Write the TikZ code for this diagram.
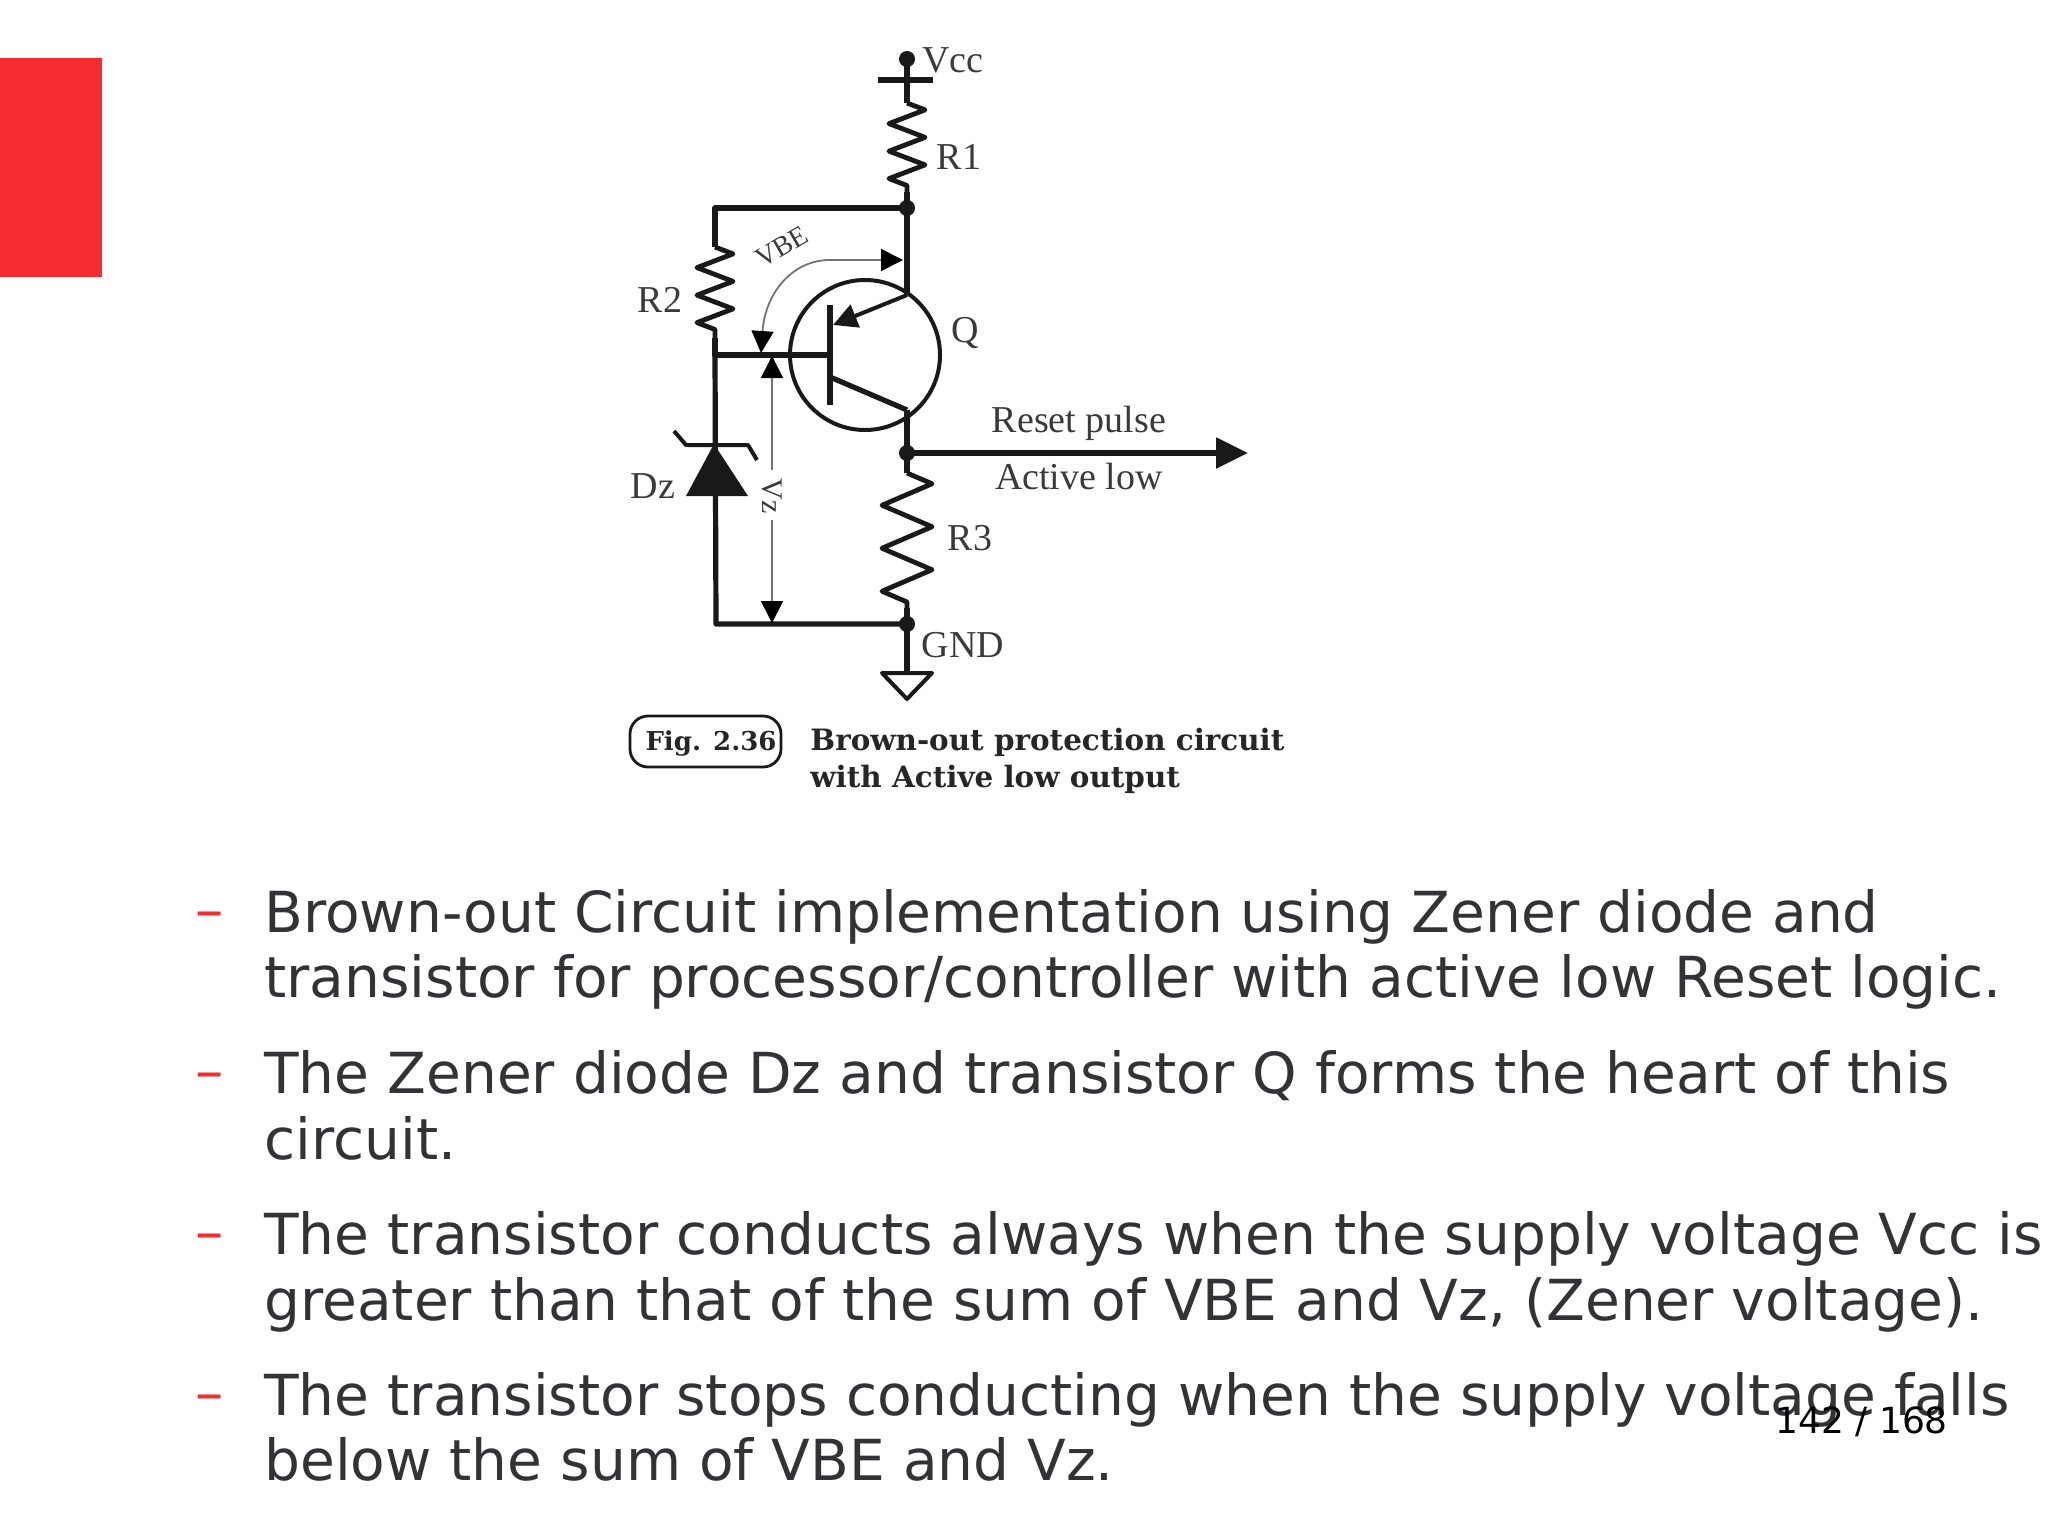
\documentclass[tikz,border=0pt]{standalone}
\usepackage{fontspec}
\setmainfont{Liberation Serif}
\newfontfamily\slidefont{DejaVu Sans}
\newfontfamily\capfont{DejaVu Serif}
\usetikzlibrary{arrows.meta,decorations.pathmorphing,calc}
\definecolor{slidered}{HTML}{F42C30}
\definecolor{slidetext}{HTML}{333236}
\definecolor{inktext}{HTML}{3A3A3A}
\tikzset{
  wire/.style={line width=2.6pt,black!90,line join=round},
  thinwire/.style={line width=0.9pt,black!55},
  res/.style={wire,line width=2.4pt,decorate,decoration={zigzag,amplitude=9pt,segment length=13.75pt,pre length=0pt,post length=0pt}},
  junction/.style={circle,fill=black!90,inner sep=0pt,minimum size=8pt},
  lab/.style={inner sep=0pt,text=inktext,font=\fontsize{19}{22}\selectfont},
  captext/.style={inner sep=0pt,anchor=base west,text=black!85,font=\capfont\fontsize{14.7}{18}\selectfont\bfseries},
  linetext/.style={inner sep=0pt,anchor=base west,text=slidetext,font=\slidefont\fontsize{28.3}{33}\selectfont},
  dashtext/.style={inner sep=0pt,anchor=base west,text=slidered,font=\slidefont\fontsize{28.3}{33}\selectfont},
  voltip/.style={-{Triangle[length=11pt,width=11pt,color=black]}},
  volboth/.style={{Triangle[length=11pt,width=11pt,color=black]}-{Triangle[length=11pt,width=11pt,color=black]}}
}
\begin{document}
\begin{tikzpicture}[x=0.5pt,y=-0.5pt]
\useasboundingbox (0,0) rectangle (2048,1536);
\fill[slidered] (0,58) rectangle (102,277);

% circuit points
\coordinate (vcc) at (907,59);
\coordinate (r1top) at (907,103);
\coordinate (r1bot) at (907,192);
\coordinate (top) at (907,208);
\coordinate (topleft) at (715,208);
\coordinate (r2top) at (715,247);
\coordinate (r2bot) at (715,338);
\coordinate (base) at (715,355);
\coordinate (bar) at (830,355);
\coordinate (emit) at (907,295);
\coordinate (coll) at (907,410);
\coordinate (out) at (907,453);
\coordinate (outend) at (1248,453);
\coordinate (r3top) at (907,473);
\coordinate (r3bot) at (907,608);
\coordinate (gnd) at (907,624);
\coordinate (botleft) at (716,624);
\coordinate (gndtip) at (907,699);

% supply and resistors
\draw[wire] (vcc) -- (r1top);
\draw[wire] (878,80) -- (933,80);
\draw[res] (r1top) -- (r1bot);
\draw[wire] (r1bot) -- (top) -- (emit);
\draw[wire] (top) -- (topleft) -- (r2top);
\draw[res] (r2top) -- (r2bot);
\draw[wire] (r2bot) -- (base) -- (bar);
\draw[wire] (base) -- (botleft) -- (gnd);
\draw[res,decoration={amplitude=12.5pt,segment length=21.5pt}] (r3top) -- (r3bot);
\draw[wire] (coll) -- (r3top);
\draw[wire] (r3bot) -- (gnd) -- (907,673);
\draw[wire,-{Triangle[length=16pt,width=15pt]}] (out) -- (outend);
\node[junction] (d1) at (vcc) {};
\node[junction] (d2) at (top) {};
\node[junction] (d3) at (out) {};
\node[junction] (d4) at (gnd) {};

% ground
\draw[wire,line width=2pt] (882,673) -- (932,673) -- (gndtip) -- cycle;

% transistor
\draw[wire,line width=2pt] (865,355) circle[radius=75];
\draw[wire] (830,305) -- (830,405);
\draw[wire,line width=2pt,-{Triangle[length=12pt,width=12pt]}] (emit) -- (833,325);
\draw[wire] (830,377) -- (coll);

% zener
\fill[black!90] (714,444) -- (748,496) -- (686,496) -- cycle;
\draw[wire,line width=2pt] (674,431) -- (686,445) -- (748,445) -- (757,460);

% voltage arrows
\draw[thinwire,volboth] (903,260) -- (827,260) .. controls (790,262) and (765,295) .. (761,353);
\draw[thinwire,voltip] (772,470) -- (772,356);
\draw[thinwire,voltip] (772,520) -- (772,623);

% labels
\node[lab,anchor=west] (lvcc) at (922,60) {Vcc};
\node[lab] (lr1) at (959,157) {R1};
\node[lab] (lr2) at (660,300) {R2};
\node[lab] (lq) at (965,333) {Q};
\node[lab] (ldz) at (653,486) {Dz};
\node[lab] (lr3) at (970,538) {R3};
\node[lab] (lgnd) at (963,645) {GND};
\node[lab] (lreset) at (1079,423) {Reset pulse};
\node[lab] (lactive) at (1079,476) {Active low};
\node[lab,rotate=30,font=\fontsize{14}{16}\selectfont] (lvbe) at (782,247) {VBE};
\node[lab,rotate=-90,font=\fontsize{15}{18}\selectfont] (lvz) at (772,496) {Vz};

% caption
\draw[wire,line width=1.4pt,rounded corners=9pt] (630,716) rectangle (781,767);
\node[captext,anchor=base,font=\capfont\fontsize{13}{16}\selectfont\bfseries] (figno) at (711,750) {Fig. 2.36};
\node[captext] (cap1) at (810,750) {Brown-out protection circuit};
\node[captext] (cap2) at (810,787) {with Active low output};

% slide text
\node[dashtext] (b1) at (195,929) {–};
\node[dashtext] (b2) at (195,1090) {–};
\node[dashtext] (b3) at (195,1251) {–};
\node[dashtext] (b4) at (195,1412) {–};
\node[linetext] (t1) at (264,932) {Brown-out Circuit implementation using Zener diode and};
\node[linetext] (t2) at (264,997) {transistor for processor/controller with active low Reset logic.};
\node[linetext] (t3) at (264,1093) {The Zener diode Dz and transistor Q forms the heart of this};
\node[linetext] (t4) at (264,1159) {circuit.};
\node[linetext] (t5) at (264,1254) {The transistor conducts always when the supply voltage Vcc is};
\node[linetext] (t6) at (264,1320) {greater than that of the sum of VBE and Vz, (Zener voltage).};
\node[linetext] (t7) at (264,1415) {The transistor stops conducting when the supply voltage falls};
\node[linetext] (t8) at (264,1480) {below the sum of VBE and Vz.};
\node[inner sep=0pt,anchor=base west,font=\slidefont\fontsize{18}{22}\selectfont] (page) at (1775,1433) {142 / 168};
\end{tikzpicture}
\end{document}
